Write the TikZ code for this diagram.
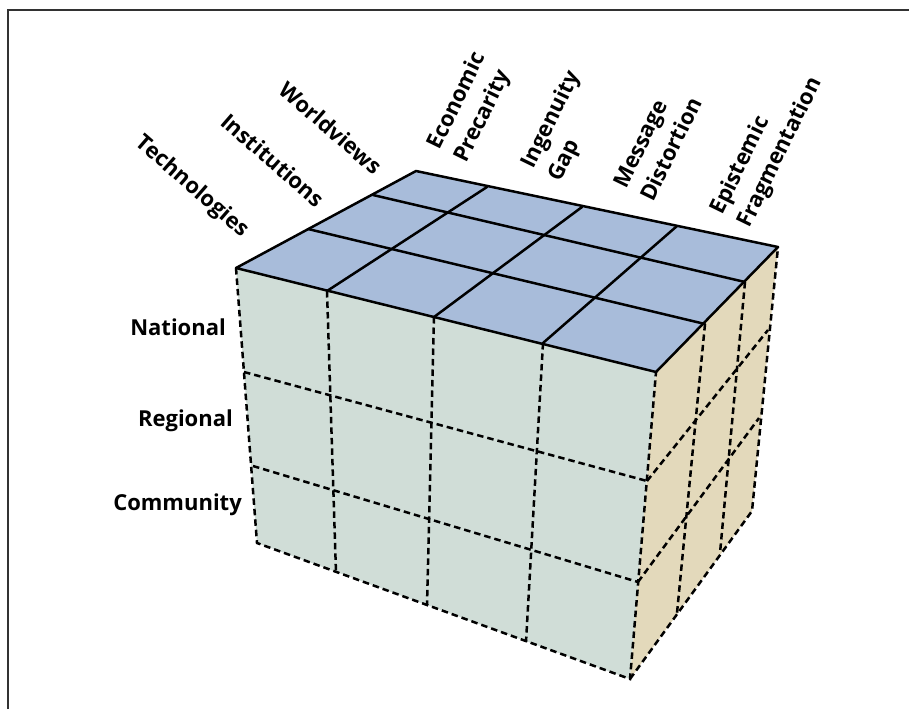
\documentclass[tikz,border=0pt]{standalone}
\usepackage{fontspec}
\setmainfont{Open Sans}
\definecolor{topc}{RGB}{168,188,218}
\definecolor{frontc}{RGB}{208,221,215}
\definecolor{sidec}{RGB}{227,217,187}
\definecolor{framec}{RGB}{50,50,50}
\begin{document}
\begin{tikzpicture}[x=1pt,y=-1pt,
  solidl/.style={line width=2.5pt, line join=round, line cap=round},
  dashl/.style={line width=2.5pt, dash pattern=on 6.5pt off 4pt},
  lab/.style={font=\fontsize{22}{30}\selectfont\bfseries, inner sep=0pt},
  collab/.style={lab, align=left, rotate=64, anchor=west},
  leftlab/.style={lab, rotate=-41},
  rowlab/.style={lab, anchor=east}]
\useasboundingbox (0,0) rectangle (909,709);
\draw[framec, line width=1.3pt] (8,709) -- (8,10) -- (909,10);
% front face grid
\coordinate (f00) at (236,268); \coordinate (f10) at (327,291); \coordinate (f20) at (434,317); \coordinate (f30) at (543,343); \coordinate (f40) at (656,372);
\coordinate (f01) at (244,372); \coordinate (f41) at (647,481);
\coordinate (f02) at (253,466); \coordinate (f42) at (638,582);
\coordinate (f03) at (257,543); \coordinate (f13) at (336,573); \coordinate (f23) at (427,605); \coordinate (f33) at (526,642); \coordinate (f43) at (630,679);
% top face
\coordinate (D) at (416,171); \coordinate (C) at (778,247);
\coordinate (b1) at (487,187); \coordinate (b2) at (582,207); \coordinate (b3) at (677,226);
\coordinate (d1L) at (308,229); \coordinate (d1R) at (705,324);
\coordinate (d2L) at (373,195); \coordinate (d2R) at (745,282);
% right face
\coordinate (G) at (752,511);
\coordinate (r1b) at (768,330); \coordinate (r2b) at (759,418);
\coordinate (d1B) at (677,613); \coordinate (d2B) at (720,553);
% fills
\fill[frontc] (f00) -- (f40) -- (f43) -- (f03) -- cycle;
\fill[sidec] (f40) -- (C) -- (G) -- (f43) -- cycle;
\fill[topc] (f00) -- (f40) -- (C) -- (D) -- cycle;
% front dashed
\draw[dashl] (f00) -- (f03) -- (f43) -- (f40);
\draw[dashl] (f10) -- (f13);
\draw[dashl] (f20) -- (f23);
\draw[dashl] (f30) -- (f33);
\draw[dashl] (f01) -- (f41);
\draw[dashl] (f02) -- (f42);
% right dashed
\draw[dashl] (f43) -- (G) -- (C);
\draw[dashl] (d1R) -- (d1B);
\draw[dashl] (d2R) -- (d2B);
\draw[dashl] (f41) -- (r1b);
\draw[dashl] (f42) -- (r2b);
% top solid
\draw[solidl] (f00) -- (f40) -- (C) -- (D) -- cycle;
\draw[solidl] (f10) -- (b1);
\draw[solidl] (f20) -- (b2);
\draw[solidl] (f30) -- (b3);
\draw[solidl] (d1L) -- (d1R);
\draw[solidl] (d2L) -- (d2R);
% labels
\node[leftlab] (tech) at (192,187) {Technologies};
\node[leftlab] (inst) at (273,160) {Institutions};
\node[leftlab] (world) at (331,128) {Worldviews};
\node[collab] (econ) at (448,155) {Economic\\Precarity};
\node[collab] (ingen) at (542,174) {Ingenuity\\Gap};
\node[collab] (mess) at (633,193) {Message\\Distortion};
\node[collab] (epis) at (731,220) {Epistemic\\Fragmentation};
\node[rowlab] (nat) at (226,327) {National};
\node[rowlab] (reg) at (233,421) {Regional};
\node[rowlab] (com) at (242,505) {Community};
\end{tikzpicture}
\end{document}
